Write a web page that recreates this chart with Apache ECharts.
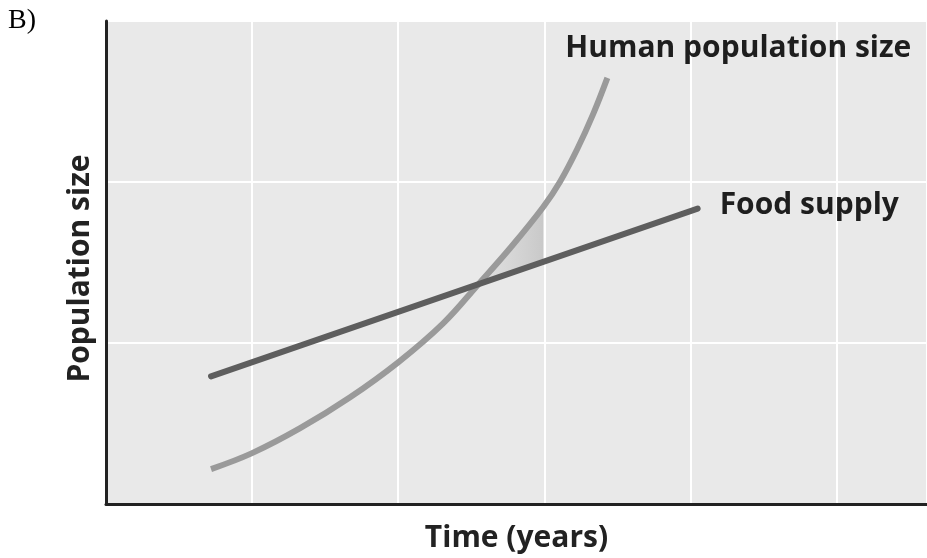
<!DOCTYPE html>
<html>
<head>
<meta charset="utf-8">
<script src="https://cdn.jsdelivr.net/npm/echarts@6/dist/echarts.min.js"></script>
<style>
html,body{margin:0;padding:0;background:#fff;}
#chart{width:927px;height:558px;}
</style>
</head>
<body>
<div id="chart"></div>
<script>
// Data (x in grid units of time, y in grid units of population size)
const humanX = [0.719, 1.0, 1.329, 1.671, 2.0, 2.308, 2.548, 2.767, 2.993, 3.11, 3.226, 3.336, 3.432];
const humanY = [0.217, 0.316, 0.471, 0.663, 0.880, 1.122, 1.364, 1.590, 1.845, 2.005, 2.205, 2.425, 2.647];
const foodX = [0.719, 4.05];
const foodY = [0.793, 1.835];
// shaded gap region (human population above food supply)
const shadeX = [2.548, 2.767, 2.993];
const shadeFood = [1.366, 1.434, 1.505];
const shadeHuman = [1.364, 1.590, 1.845];

const humanData = humanX.map((x, i) => [x, humanY[i]]);
const foodData = foodX.map((x, i) => [x, foodY[i]]);

const FONT = '"Open Sans", sans-serif';
const chart = echarts.init(document.getElementById('chart'));
chart.setOption({
  animation: false,
  backgroundColor: '#ffffff',
  grid: {left: 106, right: 0, top: 21, bottom: 53, show: true, backgroundColor: '#e9e9e9', borderWidth: 0},
  graphic: [{
    type: 'text', left: 8, top: 7,
    style: {text: 'B)', font: '28px "Liberation Serif", serif', fill: '#000'}
  }],
  xAxis: {
    type: 'value', min: 0, max: 5.62, interval: 1,
    name: 'Time (years)', nameLocation: 'middle', nameGap: 19,
    nameTextStyle: {fontFamily: FONT, fontWeight: 'bold', fontSize: 30, color: '#222'},
    axisLine: {show: true, onZero: false, lineStyle: {color: '#222', width: 3}},
    axisTick: {show: false}, axisLabel: {show: false},
    splitLine: {show: true, lineStyle: {color: '#ffffff', width: 2}}
  },
  yAxis: {
    type: 'value', min: 0, max: 3, interval: 1,
    name: 'Population size', nameLocation: 'middle', nameGap: 11, nameRotate: 90,
    nameTextStyle: {fontFamily: FONT, fontWeight: 'bold', fontSize: 30, color: '#222', padding: [0, 12, 0, 0]},
    axisLine: {show: true, onZero: false, lineStyle: {color: '#222', width: 3}},
    axisTick: {show: false}, axisLabel: {show: false},
    splitLine: {show: true, lineStyle: {color: '#ffffff', width: 2}}
  },
  series: [
    {
      type: 'custom', silent: true, data: [0],
      renderItem: function (params, api) {
        const pts = [];
        for (let i = 0; i < shadeX.length; i++) pts.push(api.coord([shadeX[i], shadeHuman[i]]));
        for (let i = shadeX.length - 1; i >= 0; i--) pts.push(api.coord([shadeX[i], shadeFood[i]]));
        const x0 = pts[0][0], x1 = pts[shadeX.length - 1][0];
        return {
          type: 'polygon', shape: {points: pts, smooth: 0},
          style: {
            fill: new echarts.graphic.LinearGradient(x0, 0, x1, 0, [
              {offset: 0, color: 'rgba(205,205,205,0.3)'},
              {offset: 1, color: 'rgba(190,190,190,0.75)'}
            ], true)
          }
        };
      }
    },
    {
      type: 'line', name: 'Human population size', data: humanData, smooth: 0.4, symbol: 'none',
      lineStyle: {color: '#9a9a9a', width: 6, cap: 'butt'},
      endLabel: {show: true, formatter: 'Human population size', align: 'left', offset: [-50, -29],
        fontFamily: FONT, fontWeight: 'bold', fontSize: 30, color: '#1e1e1e'}
    },
    {
      type: 'line', name: 'Food supply', data: foodData, symbol: 'none',
      lineStyle: {color: '#5e5e5e', width: 6, cap: 'round'},
      endLabel: {show: true, formatter: 'Food supply', align: 'left', offset: [14, -3],
        fontFamily: FONT, fontWeight: 'bold', fontSize: 30, color: '#1e1e1e'}
    }
  ]
});
</script>
</body>
</html>
